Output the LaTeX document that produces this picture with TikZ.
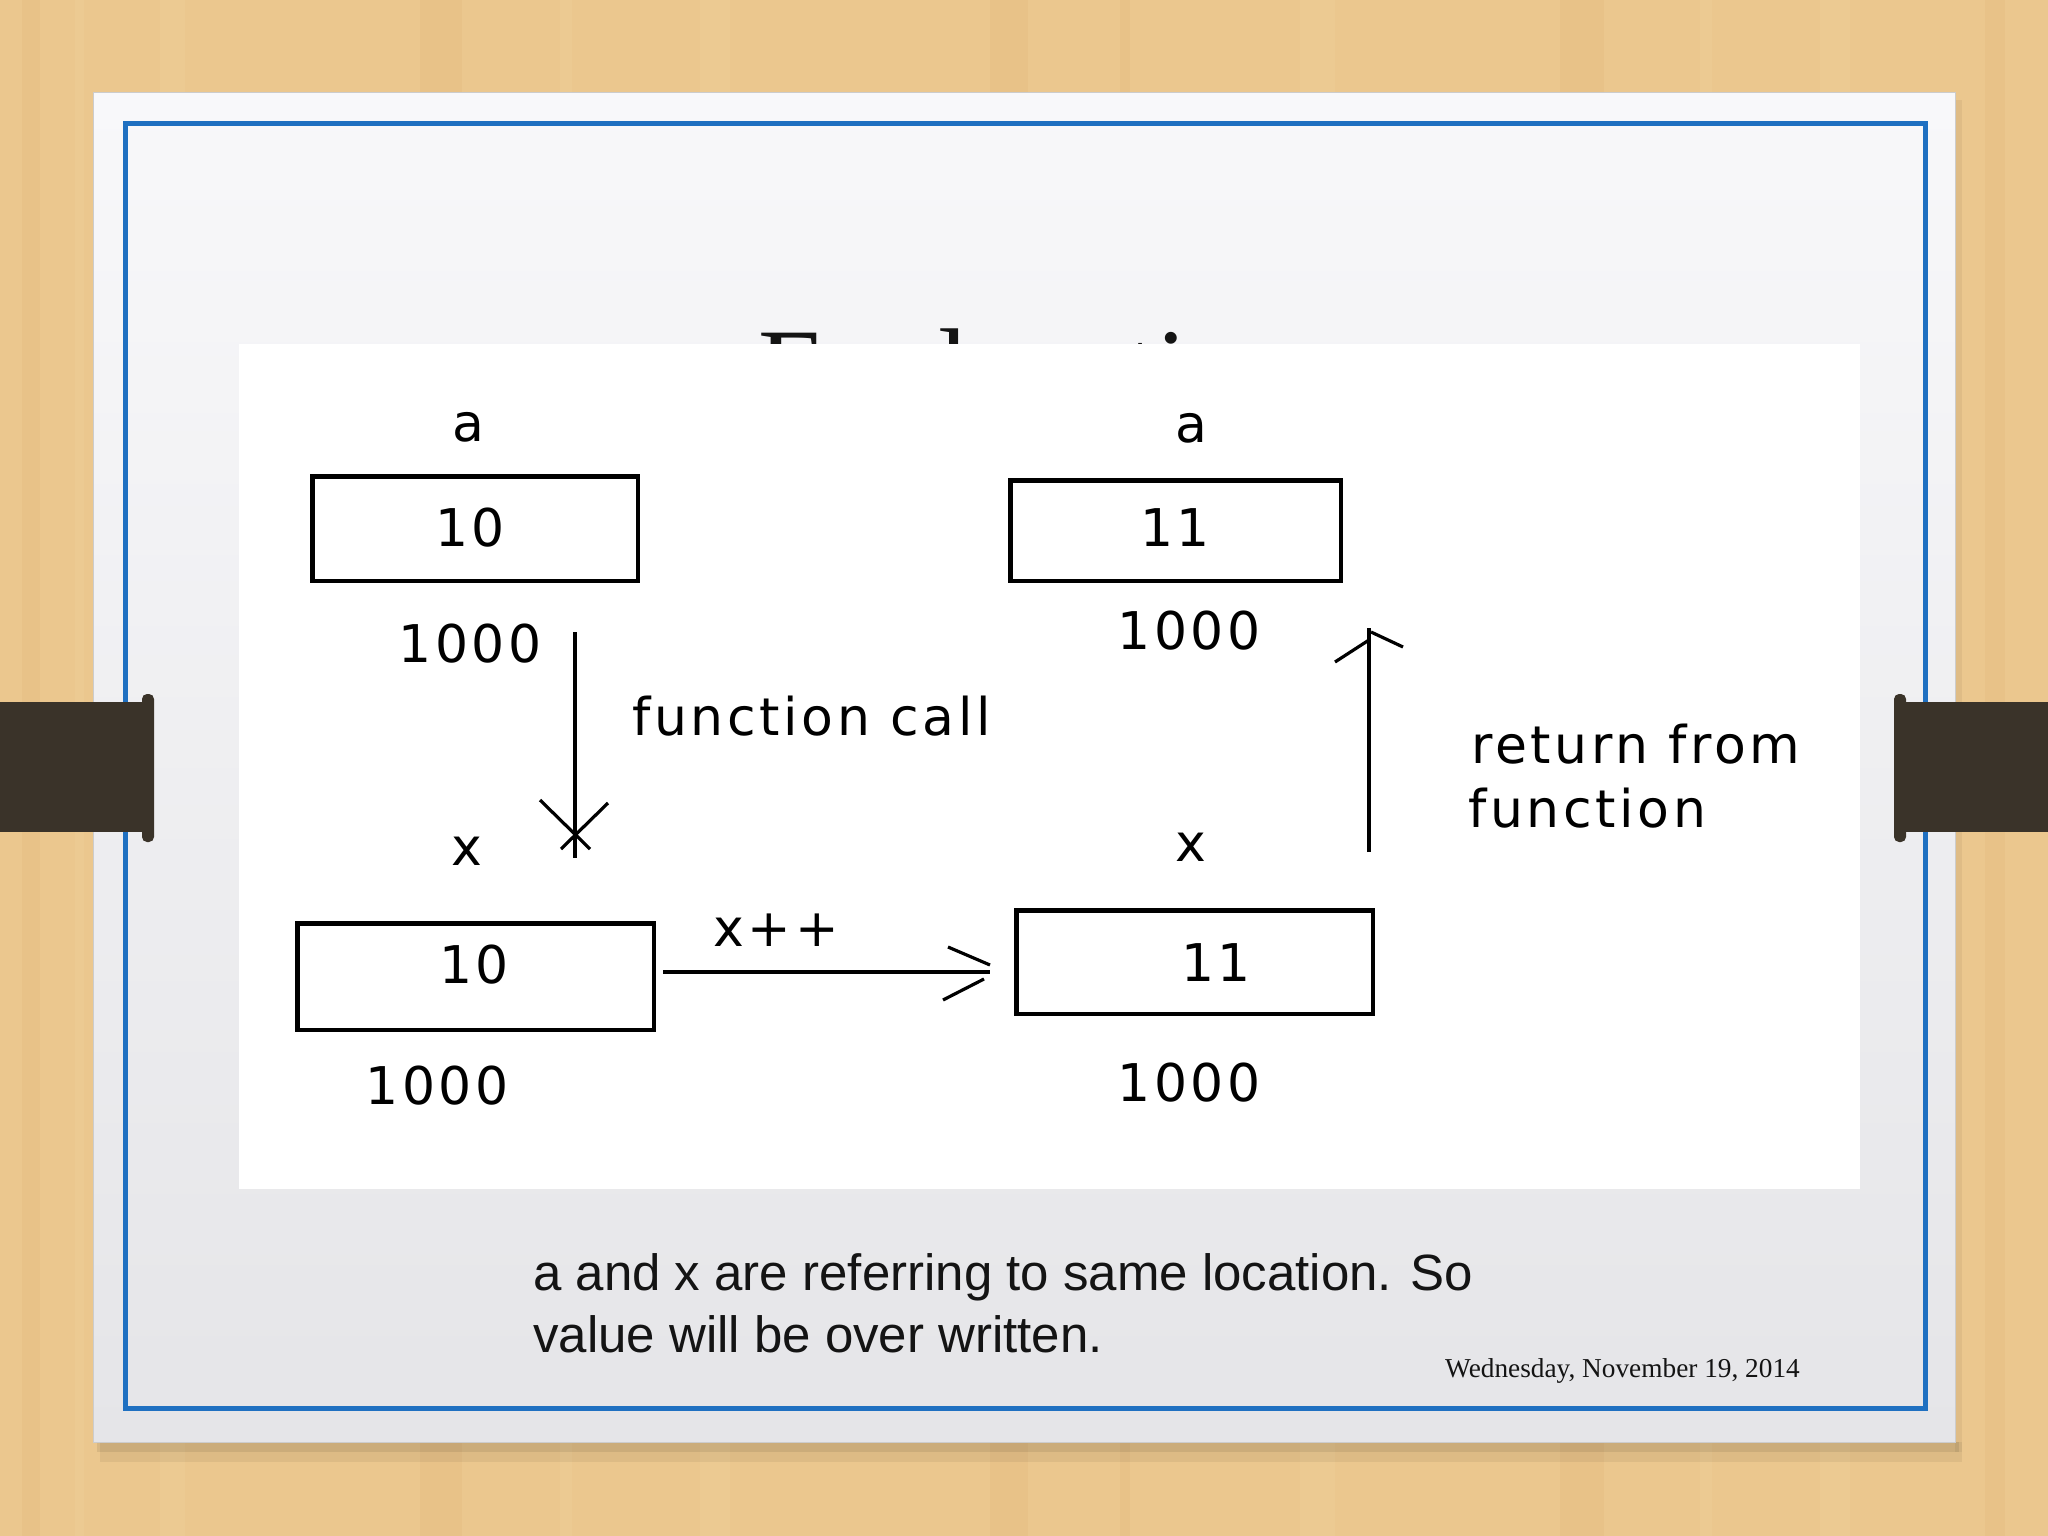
\documentclass[tikz,border=0pt]{standalone}
\usepackage{fontspec}
\setmainfont{Liberation Serif}
\newfontfamily\pixfont[LetterSpace=7]{DejaVu Sans}
\newfontfamily\bodyfont{Liberation Sans}
\definecolor{wood}{RGB}{235,199,142}
\definecolor{wooddark}{RGB}{220,176,112}
\definecolor{woodlight}{RGB}{244,216,166}
\definecolor{tabc}{RGB}{58,51,41}
\definecolor{frameblue}{RGB}{31,112,193}
\definecolor{papertop}{RGB}{248,248,250}
\definecolor{paperbot}{RGB}{229,229,232}
\definecolor{inkc}{RGB}{20,20,20}
\begin{document}
\begin{tikzpicture}[x=1pt,y=-1pt,
  membox/.style={draw=black,line width=4.5pt,inner sep=0pt,fill=white},
  pix/.style={font=\pixfont\fontsize{52}{60}\selectfont,inner sep=0pt,text=black},
  shaft/.style={draw=black,line width=4pt},
  barb/.style={draw=black,line width=3.2pt}]
\useasboundingbox (0,0) rectangle (2048,1536);
% wood background
\fill[wood] (0,0) rectangle (2048,1536);
\foreach \xa/\w/\c in {22/18/wooddark,75/9/woodlight,160/25/woodlight,420/42/wooddark,560/12/woodlight,700/30/woodlight,990/38/wooddark,1120/10/wooddark,1300/35/woodlight,1560/44/wooddark,1700/12/woodlight,1820/30/woodlight,1985/20/wooddark}{
  \fill[\c,opacity=.18] (\xa,0) rectangle ++(\w,1536);
}
% paper shadow
\fill[black,opacity=.06] (100,1442) rectangle (1962,1462);
\fill[black,opacity=.08] (97,1442) rectangle (1959,1452);
\fill[black,opacity=.05] (1955,100) rectangle (1962,1452);
% paper
\shade[top color=papertop,bottom color=paperbot] (93,93) rectangle (1955,1442);
\draw[black!20,line width=1pt] (93,93) rectangle (1955,1442);
% blue frame
\draw[frameblue,line width=5pt] (125.5,123.5) rectangle (1925.5,1408.5);
% title (mostly hidden behind the picture)
\begin{scope}
\clip (93,93) rectangle (1955,344);
\node[anchor=base west,inner sep=0pt,text=inkc,font=\fontsize{112}{120}\selectfont] (title) at (758,406) {Explanation};
\end{scope}
% white picture
\fill[white] (239,344) rectangle (1860,1189);
% side tabs
\fill[tabc] (0,702) rectangle (150,832);
\fill[tabc,rounded corners=5pt] (142,694) rectangle (154,842);
\fill[tabc] (1900,702) rectangle (2048,832);
\fill[tabc,rounded corners=5pt] (1894,694) rectangle (1906,842);
% memory boxes
\node[membox,minimum width=325.5pt,minimum height=104.5pt] (boxA1) at (475,528.5) {};
\node[membox,minimum width=330.5pt,minimum height=100.5pt] (boxA2) at (1175.5,530.5) {};
\node[membox,minimum width=356.5pt,minimum height=106.5pt] (boxX1) at (475.5,976.5) {};
\node[membox,minimum width=356.5pt,minimum height=103.5pt] (boxX2) at (1194.5,962) {};
% values, names, addresses
\node[pix] (lblA1) at (468,427) {a};
\node[pix] (valA1) at (470,528) {10};
\node[pix] (adrA1) at (470,644) {1000};
\node[pix] (lblA2) at (1191,428) {a};
\node[pix] (valA2) at (1175,528) {11};
\node[pix] (adrA2) at (1189,631) {1000};
\node[pix] (lblX1) at (467,851) {x};
\node[pix] (valX1) at (474,965) {10};
\node[pix] (adrX1) at (437,1086) {1000};
\node[pix] (lblX2) at (1191,847) {x};
\node[pix] (valX2) at (1216,963) {11};
\node[pix] (adrX2) at (1189,1083) {1000};
\node[pix] (incr) at (776,930) {x++};
\node[pix,anchor=base west] (callLbl) at (632,735) {function call};
\node[pix,anchor=base west] (retLbl1) at (1471,763) {return from};
\node[pix,anchor=base west] (retLbl2) at (1468,827) {function};
% connector end points
\coordinate (callS) at (575,632);
\coordinate (callE) at (575,858);
\coordinate (incS) at (663,972);
\coordinate (incE) at (990,972);
\coordinate (retS) at (1369,852);
\coordinate (retE) at (1369,628);
% function call arrow
\draw[shaft] (callS) -- (callE);
\draw[barb] (540,800) -- (590,849);
\draw[barb] (608,803) -- (561,849);
% x++ arrow
\draw[shaft] (incS) -- (incE);
\draw[barb] (948,947) -- (990,965);
\draw[barb] (943,1000) -- (984,979);
% return arrow
\draw[shaft] (retS) -- (retE);
\draw[barb] (1335,662) -- (1369,640);
\draw[barb] (1371,632) -- (1403,647);
% note text
\node[anchor=base west,inner sep=0pt,text=inkc,font=\bodyfont\fontsize{51}{60}\selectfont] (note1) at (533,1290) {a and x are referring to same location. So};
\node[anchor=base west,inner sep=0pt,text=inkc,font=\bodyfont\fontsize{51}{60}\selectfont] (note2) at (533,1352) {value will be over written.};
% date
\node[anchor=base west,inner sep=0pt,text=inkc,font=\fontsize{27.3}{30}\selectfont] (date) at (1445,1377) {Wednesday, November 19, 2014};
\end{tikzpicture}
\end{document}
